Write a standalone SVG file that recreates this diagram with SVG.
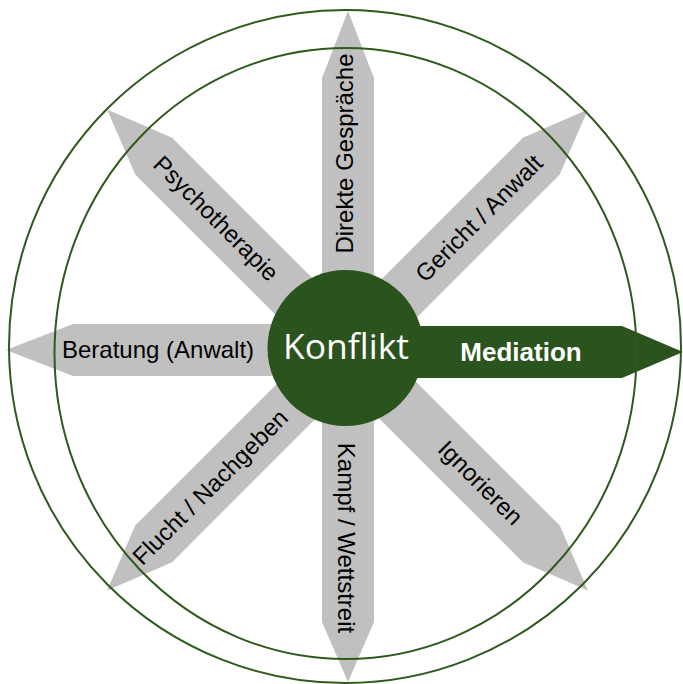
<svg xmlns="http://www.w3.org/2000/svg" width="683" height="684" viewBox="0 0 683 684">
  <style>
    .arrow { fill: #c0c0c0; }
    .lbl { font-family: "Liberation Sans", Arial, sans-serif; font-size: 24px; fill: #000; text-anchor: middle; }
    .ring { fill: none; stroke: #2e5a1e; stroke-width: 2; }
  </style>
  <defs>
    <path id="diag" d="M0,-26 H274 L340,0 L274,26 H0 Z"/>
  </defs>
  <rect width="683" height="684" fill="#fff"/>
  <g id="connectors">
    <polygon class="arrow" points="322,350 322,78 348,11 374,78 374,350"/>
    <polygon class="arrow" points="322,350 322,622 348,682 374,622 374,350"/>
    <polygon class="arrow" points="348,324 73,324 6,350 73,376 348,376"/>
    <use href="#diag" class="arrow" transform="translate(347.5,350) rotate(-45)"/>
    <use href="#diag" class="arrow" transform="translate(347.5,350) rotate(45)"/>
    <use href="#diag" class="arrow" transform="translate(347.5,350) rotate(135)"/>
    <use href="#diag" class="arrow" transform="translate(347.5,350) rotate(-135)"/>
    <polygon id="mediation-arrow" fill="#2b531e" points="345,326 622,326 683,352 622,378 345,378"/>
  </g>
  <g id="konflikt">
    <circle cx="345.5" cy="348" r="78" fill="#2b531e"/>
    <text x="346" y="359" font-family="'Open Sans', 'Noto Sans', sans-serif" font-size="35.5" fill="#fff" text-anchor="middle">Konflikt</text>
  </g>
  <g id="rings">
    <ellipse class="ring" cx="345" cy="346.5" rx="336" ry="336.5"/>
    <ellipse class="ring" cx="345.5" cy="353.5" rx="291" ry="305.5"/>
  </g>
  <g id="mediation">
    <text x="521" y="361" font-family="'Liberation Sans', Arial, sans-serif" font-size="26" font-weight="bold" fill="#fff" text-anchor="middle">Mediation</text>
  </g>
  <g id="direkte-gespraeche">
    <text class="lbl" transform="translate(347.5,350) rotate(-90)" x="196.5" y="5.5">Direkte Gespräche</text>
  </g>
  <g id="gericht-anwalt">
    <text class="lbl" transform="translate(347.5,350) rotate(-45)" x="186" y="8">Gericht / Anwalt</text>
  </g>
  <g id="ignorieren">
    <text class="lbl" transform="translate(347.5,350) rotate(45)" x="188" y="8">Ignorieren</text>
  </g>
  <g id="kampf-wettstreit">
    <text class="lbl" transform="translate(347.5,350) rotate(90)" x="188" y="9.5">Kampf / Wettstreit</text>
  </g>
  <g id="flucht-nachgeben">
    <text class="lbl" transform="translate(347.5,350) rotate(-45)" x="-194" y="8">Flucht / Nachgeben</text>
  </g>
  <g id="beratung">
    <text class="lbl" x="158" y="358">Beratung (Anwalt)</text>
  </g>
  <g id="psychotherapie">
    <text class="lbl" transform="translate(347.5,350) rotate(45)" x="-186" y="8">Psychotherapie</text>
  </g>
</svg>
